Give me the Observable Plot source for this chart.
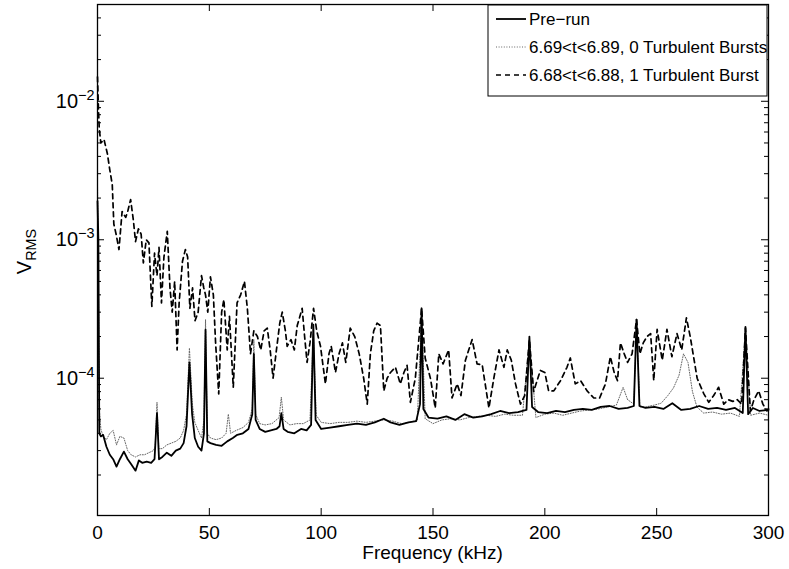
<!DOCTYPE html>
<html><head><meta charset="utf-8">
<script src="https://cdn.jsdelivr.net/npm/d3@7"></script>
<script src="https://cdn.jsdelivr.net/npm/@observablehq/plot@0.6"></script>
<style>
body{margin:0;background:#fff;}
#wrap{width:789px;height:569px;}
</style></head><body><div id="wrap"></div>
<script>
// ---- data ----
const seriesNames = ["Pre\u2212run", "6.69<t<6.89, 0 Turbulent Bursts", "6.68<t<6.88, 1 Turbulent Burst"];
const xTickValues = [0, 50, 100, 150, 200, 250, 300];
const yTickValues = [1e-2, 1e-3, 1e-4];
const yTickExponents = ["\u22122", "\u22123", "\u22124"];

const preF = [0,0.4,0.8,1.5,2.5,4,5.5,7,8.5,10,11.8,13.5,15,17,18.5,20,22,24,25.5,26.6,27.5,29,31,33,35,37,38.5,39.8,41.1,42.3,43.5,45,46.5,47.6,48.3,49.1,50.5,53,55.5,58,60.5,62.5,65,67.5,69.2,69.9,70.7,72.5,75,77.5,80,81.4,82.2,83.2,85,88,91,93.5,95.5,96.5,97.5,100,104,108,112,116,120,124,128,131,135,139,142.5,144.2,144.9,145.7,148,152,156,160,164,168,172,176,180,184,188,191.8,193.1,194.3,197,201,205,209,213,217,221,225,229,233,237,239.8,241,242.3,245,249,253,257,261,265,269,273,277,281,285,288.5,289.7,290.9,293,296,300];
const preV = [1.9e-3,1.0e-3,4.0e-5,3.8e-5,3.9e-5,3.2e-5,2.8e-5,2.6e-5,2.3e-5,2.6e-5,2.95e-5,2.6e-5,2.4e-5,2.15e-5,2.55e-5,2.45e-5,2.5e-5,2.45e-5,2.6e-5,5.6e-5,2.6e-5,2.7e-5,2.9e-5,2.75e-5,3.0e-5,3.1e-5,3.4e-5,4.5e-5,1.3e-4,5.5e-5,3.7e-5,3.2e-5,3.0e-5,4.0e-5,2.24e-4,3.5e-5,3.4e-5,3.3e-5,3.25e-5,3.5e-5,3.7e-5,3.9e-5,4.0e-5,4.3e-5,5.5e-5,1.5e-4,5.0e-5,4.3e-5,4.1e-5,4.2e-5,4.3e-5,4.5e-5,5.6e-5,4.3e-5,4.1e-5,4.0e-5,4.3e-5,4.2e-5,4.6e-5,2.44e-4,5.0e-5,4.3e-5,4.4e-5,4.5e-5,4.6e-5,4.7e-5,4.6e-5,4.8e-5,5.1e-5,4.8e-5,4.6e-5,4.8e-5,4.9e-5,6.5e-5,3.2e-4,6.0e-5,5.2e-5,5.1e-5,5.3e-5,5.0e-5,5.5e-5,5.2e-5,5.3e-5,5.5e-5,5.8e-5,5.6e-5,5.7e-5,5.9e-5,2.0e-4,6.2e-5,5.7e-5,5.6e-5,5.8e-5,5.7e-5,5.9e-5,6.0e-5,5.9e-5,6.2e-5,6.3e-5,6.0e-5,6.1e-5,6.3e-5,2.65e-4,6.3e-5,6.1e-5,6.2e-5,6.0e-5,6.6e-5,5.9e-5,6.0e-5,6.3e-5,6.0e-5,6.1e-5,5.9e-5,6.1e-5,5.6e-5,2.35e-4,5.5e-5,6.1e-5,5.8e-5,5.9e-5];

const quietF = [0,0.4,0.8,1.5,2.5,4,5.5,7,8.5,10,11.8,13.5,15,17,19,21,23,25,25.8,26.6,27.4,29,31,33,35,37,38.5,39.8,41.1,42.4,43.5,45,46.5,47.6,48.3,49.1,50.5,53,55.5,57.5,58.5,59.5,62,65,67.5,69.2,69.9,70.7,72.5,75,78,81.2,82.2,83.2,86,89,92,95,96.5,97.8,100,104,108,112,116,120,124,128,132,136,140,143,144.9,146.5,150,154,158,162,166,170,174,178,182,186,190,193.1,196,200,204,208,212,216,220,224,228,232,235,237,239.8,241,242.5,245,249,252,255,257.5,260,262,264,266,268,271,275,279,283,287,289.7,292,296,300];
const quietV = [2.5e-3,6.0e-4,6.0e-5,4.3e-5,3.8e-5,3.6e-5,4.0e-5,4.2e-5,3.3e-5,3.8e-5,3.7e-5,3.0e-5,2.8e-5,2.7e-5,2.8e-5,2.8e-5,2.9e-5,3.0e-5,3.2e-5,6.7e-5,3.1e-5,3.1e-5,3.3e-5,3.4e-5,3.5e-5,3.7e-5,4.2e-5,5.5e-5,1.65e-4,6.5e-5,4.8e-5,4.2e-5,3.7e-5,5.0e-5,2.65e-4,4.0e-5,3.7e-5,3.6e-5,3.7e-5,4.0e-5,5.5e-5,4.0e-5,4.2e-5,4.4e-5,4.8e-5,6.0e-5,1.9e-4,5.5e-5,4.7e-5,4.6e-5,4.7e-5,5.2e-5,7.3e-5,5.0e-5,4.6e-5,4.7e-5,4.7e-5,5.0e-5,2.1e-4,5.4e-5,4.8e-5,4.7e-5,4.8e-5,4.8e-5,4.9e-5,4.8e-5,4.9e-5,5.0e-5,4.9e-5,4.7e-5,4.8e-5,5.0e-5,3.0e-4,5.1e-5,4.7e-5,5.0e-5,5.1e-5,5.0e-5,5.2e-5,5.3e-5,5.4e-5,5.3e-5,5.5e-5,5.4e-5,5.4e-5,1.9e-4,5.2e-5,5.5e-5,5.6e-5,5.4e-5,5.6e-5,5.8e-5,5.9e-5,6.0e-5,6.2e-5,6.4e-5,8.6e-5,7.0e-5,6.5e-5,2.5e-4,6.2e-5,6.2e-5,6.4e-5,6.6e-5,7.5e-5,8.5e-5,1.05e-4,1.5e-4,1.3e-4,8.0e-5,6.2e-5,5.6e-5,5.7e-5,5.5e-5,5.6e-5,5.3e-5,2.2e-4,5.4e-5,5.6e-5,5.4e-5];

const burstF = [0,0.4,0.8,1.5,2.9,4.4,5.5,6.6,7.3,8.3,9.6,11,12.6,13.5,14.8,16,17,18.3,19.5,20.5,21.8,23,24.3,25.5,26.6,27.5,28.6,29.7,31.2,32.4,33.4,34.5,35.6,36.5,38,39.3,40.3,41.3,42.5,43.6,45,46.5,47.5,48.3,49.3,50.5,51.8,52.8,54.2,55.5,56.5,58,59,60.7,62.4,64,65.7,67,68.4,69.9,71.5,73,74.5,75.9,77.2,78.5,80,81.5,82.6,84,84.8,86.5,88,89.3,90.5,91.5,92.6,93.7,95,96.6,98,99.7,101.9,103.5,104.5,106.4,108,109.5,111,113,115,117,119,120.6,122,123.5,125,126.5,128,129.5,131,133.2,135.4,137,138.4,139.9,142.1,144.9,146.5,148.9,151,152.6,154.5,157,158.5,160.8,162.5,164.5,167.5,169.7,172,175,177.2,179.5,181.7,183.2,185,186.9,189.1,191,193.1,195,198,200,201.7,204,207,209.9,211.4,213.6,216,218.9,221.9,224.5,227.1,229.3,231,232.5,233.8,235.5,237,239,241,242.5,244,245.7,247.3,248.7,250.2,252.5,254.6,256.8,259.1,261.2,263.3,265,268.1,271.1,273.3,275.5,277.7,280,282,284,286,288,289.7,291.9,293.5,295.6,297.5,299.3,300];
const burstV = [1.5e-2,9e-3,6.3e-3,5.0e-3,5.3e-3,4.2e-3,3.2e-3,2.5e-3,1.3e-3,1.1e-3,8.5e-4,1.6e-3,1.45e-3,1.6e-3,1.95e-3,1.4e-3,9.7e-4,1.2e-3,1.1e-3,6.8e-4,1.0e-3,9.5e-4,3.3e-4,8.0e-4,5.5e-4,8.8e-4,3.5e-4,7.5e-4,1.15e-3,4.5e-4,3.0e-4,5.0e-4,1.6e-4,3.5e-4,7.0e-4,8.5e-4,7.5e-4,3.2e-4,4.5e-4,2.6e-4,3.0e-4,5.5e-4,4.5e-4,4.0e-4,3.0e-4,5.4e-4,4.0e-4,1.8e-4,7.7e-5,3.0e-4,3.7e-4,1.6e-4,2.8e-4,8.6e-5,3.5e-4,4.0e-4,5.0e-4,3.2e-4,1.5e-4,2.2e-4,2.0e-4,1.6e-4,2.2e-4,2.3e-4,1.6e-4,1.0e-4,1.6e-4,2.5e-4,3.0e-4,2.2e-4,1.7e-4,1.9e-4,1.6e-4,2.4e-4,2.8e-4,3.2e-4,2.0e-4,1.3e-4,1.8e-4,3.2e-4,2.2e-4,1.7e-4,9.1e-5,1.5e-4,1.7e-4,1.1e-4,1.5e-4,1.8e-4,1.3e-4,2.3e-4,2.0e-4,1.5e-4,1.0e-4,6.5e-5,1.5e-4,2.2e-4,2.5e-4,2.4e-4,8.1e-5,1.0e-4,1.1e-4,1.2e-4,9.1e-5,1.1e-4,1.24e-4,6.7e-5,1.0e-4,3.2e-4,1.4e-4,9.9e-5,6.1e-5,1.5e-4,1.27e-4,1.6e-4,7.2e-5,9.1e-5,7.5e-5,1.35e-4,1.9e-4,1.27e-4,1.25e-4,6.1e-5,1.0e-4,1.6e-4,1.2e-4,1.6e-4,1.35e-4,9.1e-5,6.5e-5,7.5e-5,1.9e-4,8.0e-5,1.14e-4,1.1e-4,8.1e-5,8.1e-5,9.6e-5,1.2e-4,1.4e-4,9.1e-5,9.6e-5,8.1e-5,7.2e-5,7.2e-5,9.1e-5,1.43e-4,1.1e-4,9.6e-5,1.8e-4,1.5e-4,1.3e-4,1.5e-4,2.65e-4,1.5e-4,1.8e-4,2.0e-4,2.1e-4,9.6e-5,2.25e-4,1.35e-4,2.25e-4,1.43e-4,2.1e-4,1.6e-4,2.73e-4,2.0e-4,1.0e-4,7.7e-5,6.7e-5,7.5e-5,8.6e-5,6.5e-5,7.0e-5,6.8e-5,7.0e-5,6.5e-5,2.3e-4,5.8e-5,7.0e-5,8.1e-5,6.5e-5,5.8e-5,6.0e-5];

// ---- build tables ----
const toRows = (F, V) => F.map((f, i) => ({f, v: V[i]}));
const preRows = toRows(preF, preV);
const quietRows = toRows(quietF, quietV);
const burstRows = toRows(burstF, burstV);

const W = 789, H = 569, mL = 97, mR = 21, mT = 4, mB = 54;
const innerW = W - mL - mR, innerH = H - mT - mB;
const yDomain = [1.02e-5, 5e-2];
const decades = [1e-5, 1e-4, 1e-3, 1e-2];
const minorTicks = [];
for (const d of decades) for (let k = 2; k <= 9; k++) { const v = k * d; if (v <= yDomain[1]) minorTicks.push(v); }
const majorTicks = decades.filter(d => d >= yDomain[0]);

const FONT = "'Liberation Sans', Arial, Helvetica, sans-serif";
const fs = 19;

const chart = Plot.plot({
  width: W, height: H,
  marginLeft: mL, marginRight: mR, marginTop: mT, marginBottom: mB,
  style: {fontFamily: FONT, fontSize: fs + "px", background: "white", color: "black", overflow: "visible"},
  x: {domain: [0, 300]},
  y: {type: "log", domain: yDomain},
  marks: [
    Plot.line(quietRows, {x: "f", y: "v", stroke: "#666", strokeWidth: 1, strokeDasharray: "1,1.6"}),
    Plot.line(burstRows, {x: "f", y: "v", stroke: "black", strokeWidth: 1.7, strokeDasharray: "5,4"}),
    Plot.line(preRows, {x: "f", y: "v", stroke: "black", strokeWidth: 1.8}),
    Plot.tickY(majorTicks, {y: d => d, insetRight: innerW - 7, stroke: "black"}),
    Plot.tickY(majorTicks, {y: d => d, insetLeft: innerW - 7, stroke: "black"}),
    Plot.tickY(minorTicks, {y: d => d, insetRight: innerW - 4, stroke: "black"}),
    Plot.tickY(minorTicks, {y: d => d, insetLeft: innerW - 4, stroke: "black"}),
    Plot.tickX(xTickValues, {x: d => d, insetBottom: innerH - 7, stroke: "black"}),
    Plot.tickX(xTickValues, {x: d => d, insetTop: innerH - 7, stroke: "black"}),
    Plot.frame({stroke: "black", strokeWidth: 1.3}),
    Plot.axisX(xTickValues, {tickSize: 0, tickPadding: 10, label: null, fontSize: fs}),
    Plot.axisY(yTickValues, {tickSize: 0, tickPadding: 3, label: null, fontSize: 20, tickFormat: () => "10"})
  ]
});

document.getElementById("wrap").appendChild(chart);
const svg = d3.select(chart);

// superscript exponents on y tick labels
svg.selectAll('g[aria-label="y-axis tick label"] text').each(function(d, i) {
  const t = d3.select(this);
  t.append("tspan").attr("dy", "-0.55em").attr("font-size", "0.72em").text(yTickExponents[i]);
});

// y-axis label V_RMS
const yl = svg.append("text")
  .attr("transform", `translate(31, ${mT + innerH / 2 - 8}) rotate(-90)`)
  .attr("text-anchor", "middle").attr("font-family", FONT).attr("font-size", fs + 1).attr("fill", "black");
yl.append("tspan").text("V");
yl.append("tspan").attr("dy", "0.35em").attr("font-size", "0.72em").text("RMS");

// x-axis label
svg.append("text").attr("x", mL + innerW / 2).attr("y", H - 10)
  .attr("text-anchor", "middle").attr("font-family", FONT).attr("font-size", fs).attr("fill", "black")
  .text("Frequency (kHz)");

// legend
const lg = svg.append("g").attr("font-family", FONT).attr("font-size", 17).attr("text-anchor", "start");
const lx = 488, ly = 5, lw = 279, lh = 91;
lg.append("rect").attr("x", lx).attr("y", ly).attr("width", lw).attr("height", lh)
  .attr("fill", "white").attr("stroke", "black").attr("stroke-width", 1);
const styles = [
  {stroke: "black", w: 1.8, dash: null},
  {stroke: "#666", w: 1, dash: "1,1.6"},
  {stroke: "black", w: 1.7, dash: "5,4"}
];
seriesNames.forEach((name, i) => {
  const cy = ly + 14 + i * 28;
  const ln = lg.append("line").attr("x1", lx + 8).attr("x2", lx + 38).attr("y1", cy).attr("y2", cy)
    .attr("stroke", styles[i].stroke).attr("stroke-width", styles[i].w);
  if (styles[i].dash) ln.attr("stroke-dasharray", styles[i].dash);
  lg.append("text").attr("x", lx + 41).attr("y", cy).attr("dy", "0.35em").attr("fill", "black")
    .attr("text-anchor", "start").text(name);
});
</script></body></html>
